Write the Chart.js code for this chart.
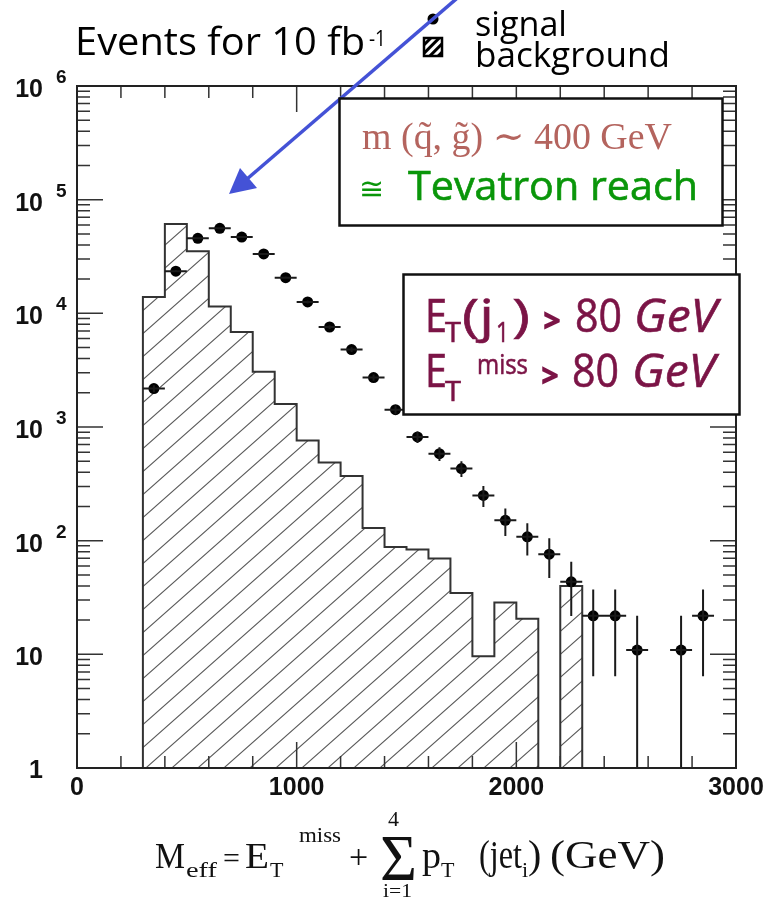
<!DOCTYPE html>
<html>
<head>
<meta charset="utf-8">
<script src="https://cdn.jsdelivr.net/npm/chart.js@4.4.1/dist/chart.umd.min.js"></script>
<style>
  html, body { margin: 0; padding: 0; background: #fff; }
  #wrap { position: relative; width: 774px; height: 899px; }
  #chart, #notes { position: absolute; left: 0; top: 0; }
  .hand { font-family: 'Open Sans', 'DejaVu Sans', sans-serif; }
  .serif { font-family: 'Liberation Serif', 'DejaVu Serif', serif; }
  .tick { font-family: 'Liberation Sans', Arial, sans-serif; fill: #111; font-weight: bold; }
</style>
</head>
<body>
<div id="wrap">
  <canvas id="chart" width="774" height="899"></canvas>
  <svg id="notes" width="774" height="899" xmlns="http://www.w3.org/2000/svg">
    <defs>
      <pattern id="legHatch" width="6" height="6" patternUnits="userSpaceOnUse" patternTransform="rotate(45)">
        <rect width="3" height="6" fill="#000"></rect>
      </pattern>
    </defs>

    <!-- title + legend -->
    <text class="hand" x="75" y="55" font-size="38" textLength="290" lengthAdjust="spacingAndGlyphs">Events for 10 fb</text>
    <text class="hand" x="369" y="46" font-size="22" textLength="17" lengthAdjust="spacingAndGlyphs">-1</text>
    <circle cx="433" cy="19" r="5.5" fill="#000"></circle>
    <rect x="424" y="38" width="18" height="18" fill="url(#legHatch)" stroke="#000" stroke-width="2.5"></rect>
    <text class="hand" x="475" y="36" font-size="34" textLength="92" lengthAdjust="spacingAndGlyphs">signal</text>
    <text class="hand" x="475" y="67" font-size="34" textLength="195" lengthAdjust="spacingAndGlyphs">background</text>

    <!-- blue arrow -->
    <line x1="462" y1="-6" x2="247" y2="179" stroke="#4452d6" stroke-width="3.5"></line>
    <polygon points="229,194 240,168 257,188" fill="#4452d6"></polygon>

    <!-- mass box -->
    <rect x="339.5" y="98.5" width="383" height="127" fill="#fff" stroke="#111" stroke-width="2.5"></rect>
    <text class="serif" x="362" y="149" font-size="38" fill="#b4645e" textLength="310" lengthAdjust="spacingAndGlyphs">m (q&#771;, g&#771;) &#8764; 400 GeV</text>
    <text class="hand" x="359" y="199" font-size="30" fill="#0a960a">&#8773;</text>
    <text class="hand" x="408" y="200" font-size="41" fill="#0a960a" stroke="#0a960a" stroke-width="0.6" textLength="290" lengthAdjust="spacingAndGlyphs">Tevatron reach</text>

    <!-- cuts box -->
    <rect x="403.5" y="274.5" width="336" height="140" fill="#fff" stroke="#111" stroke-width="2.5"></rect>
    <g class="hand" fill="#7b1446" stroke="#7b1446" stroke-width="0.6">
      <text x="425" y="332" font-size="45" textLength="22" lengthAdjust="spacingAndGlyphs">E</text>
      <text x="445" y="342" font-size="27" textLength="16" lengthAdjust="spacingAndGlyphs">T</text>
      <text x="462" y="332" font-size="45" textLength="32" lengthAdjust="spacingAndGlyphs">(j</text>
      <text x="496" y="342" font-size="27" textLength="13" lengthAdjust="spacingAndGlyphs">1</text>
      <text x="512" y="332" font-size="45" textLength="18" lengthAdjust="spacingAndGlyphs">)</text>
      <text x="544" y="331" font-size="30" stroke-width="2.5" textLength="16" lengthAdjust="spacingAndGlyphs">&gt;</text>
      <text x="575" y="332" font-size="45" textLength="47" lengthAdjust="spacingAndGlyphs">80</text>
      <text x="634" y="332" font-size="45" font-style="italic" textLength="83" lengthAdjust="spacingAndGlyphs">GeV</text>

      <text x="425" y="387" font-size="45" textLength="22" lengthAdjust="spacingAndGlyphs">E</text>
      <text x="445" y="401" font-size="27" textLength="16" lengthAdjust="spacingAndGlyphs">T</text>
      <text x="477" y="374" font-size="28" textLength="51" lengthAdjust="spacingAndGlyphs">miss</text>
      <text x="542" y="386" font-size="30" stroke-width="2.5" textLength="16" lengthAdjust="spacingAndGlyphs">&gt;</text>
      <text x="572" y="387" font-size="45" textLength="47" lengthAdjust="spacingAndGlyphs">80</text>
      <text x="632" y="387" font-size="45" font-style="italic" textLength="83" lengthAdjust="spacingAndGlyphs">GeV</text>
    </g>

    <!-- x axis title -->
    <g class="serif" fill="#111">
      <text x="155" y="868" font-size="36" textLength="30" lengthAdjust="spacingAndGlyphs">M</text>
      <text x="186" y="877" font-size="22" textLength="31" lengthAdjust="spacingAndGlyphs">eff</text>
      <text x="223" y="868" font-size="30">=</text>
      <text x="245" y="868" font-size="36" textLength="24" lengthAdjust="spacingAndGlyphs">E</text>
      <text x="270" y="877" font-size="22">T</text>
      <text x="299" y="842" font-size="22" textLength="42" lengthAdjust="spacingAndGlyphs">miss</text>
      <text x="349" y="868" font-size="34">+</text>
      <text x="380" y="880" font-size="66" textLength="37" lengthAdjust="spacingAndGlyphs">&#931;</text>
      <text x="388" y="826" font-size="22">4</text>
      <text x="383" y="897" font-size="19" textLength="29" lengthAdjust="spacingAndGlyphs">i=1</text>
      <text x="422" y="868" font-size="38">p</text>
      <text x="441" y="877" font-size="22">T</text>
      <text x="479" y="868" font-size="40" textLength="43" lengthAdjust="spacingAndGlyphs">(jet</text>
      <text x="522" y="877" font-size="22">i</text>
      <text x="528" y="868" font-size="40">)</text>
      <text x="550" y="868" font-size="40" textLength="115" lengthAdjust="spacingAndGlyphs">(GeV)</text>
    </g>
  </svg>
</div>
<script>
(function() {
  'use strict';

  // background histogram: lower edge of each 100 GeV bin and its content
  var bgBinLow = [300, 400, 500, 600, 700, 800, 900, 1000, 1100, 1200,
                  1300, 1400, 1500, 1600, 1700, 1800, 1900, 2000, 2100, 2200];
  var bgCounts = [13900, 61000, 35100, 11500, 6850, 3070, 1590, 760, 486, 371,
                  129, 88, 83.5, 69.6, 34.7, 9.6, 28.6, 20.6, 0, 40];
  var binWidth = 100;

  // signal points (bin centres), values and error bars
  var sigCenters = [350, 450, 550, 650, 750, 850, 950, 1050, 1150, 1250,
                    1350, 1450, 1550, 1650, 1750, 1850, 1950, 2050, 2150, 2250,
                    2350, 2450, 2550, 2750, 2850];
  var sigValues = [2180, 23500, 45700, 56000, 46900, 33300, 20600, 12600, 7580, 4800,
                   2720, 1420, 817, 583, 431, 250, 151, 108, 76, 43.4,
                   21.8, 21.8, 10.9, 10.9, 21.8];
  var sigErrors = [154, 500, 700, 780, 715, 600, 470, 370, 290, 230,
                   172, 124, 94, 80, 68, 52, 41, 34, 29, 21.7,
                   15.4, 15.4, 10.9, 10.9, 15.4];

  var xTicks = [0, 1000, 2000, 3000];
  var yDecades = [0, 1, 2, 3, 4, 5, 6];

  var yMin = 1;

  // step outline of the background, closed down to the axis
  var bgPoints = [{x: bgBinLow[0], y: yMin}];
  bgBinLow.forEach(function(lo, i) {
    bgPoints.push({x: lo, y: bgCounts[i] > 0 ? bgCounts[i] : yMin});
  });
  var lastEdge = bgBinLow[bgBinLow.length - 1] + binWidth;
  bgPoints.push({x: lastEdge, y: bgCounts[bgCounts.length - 1]});
  bgPoints.push({x: lastEdge, y: yMin});

  var sigPoints = sigCenters.map(function(x, i) {
    return {x: x, y: sigValues[i]};
  });

  // hatch pattern for the background fill
  function makeHatch() {
    var w = 26, h = 23;
    var tile = document.createElement('canvas');
    tile.width = w; tile.height = h;
    var t = tile.getContext('2d');
    t.strokeStyle = '#5a5a5a';
    t.lineWidth = 1.1;
    t.beginPath();
    [-1, 0, 1].forEach(function(k) {
      t.moveTo(-w + k * w, 2 * h);
      t.lineTo(2 * w + k * w, -h);
    });
    t.stroke();
    return t.createPattern(tile, 'repeat');
  }

  var errorBars = {
    id: 'errorBars',
    afterDatasetsDraw: function(chart) {
      var xs = chart.scales.x, ys = chart.scales.y, c = chart.ctx, a = chart.chartArea;
      c.save();
      c.beginPath();
      c.rect(a.left, a.top, a.right - a.left, a.bottom - a.top);
      c.clip();
      c.strokeStyle = '#1a1a1a';
      c.lineWidth = 2;
      c.beginPath();
      sigCenters.forEach(function(xc, i) {
        var v = sigValues[i], e = sigErrors[i];
        var px = xs.getPixelForValue(xc);
        var py = ys.getPixelForValue(v);
        c.moveTo(px, ys.getPixelForValue(v + e));
        c.lineTo(px, ys.getPixelForValue(Math.max(v - e, ys.min)));
        c.moveTo(xs.getPixelForValue(xc - binWidth / 2), py);
        c.lineTo(xs.getPixelForValue(xc + binWidth / 2), py);
      });
      c.stroke();
      c.restore();
    }
  };

  // frame with inward ticks on all four sides
  var frame = {
    id: 'frame',
    afterDraw: function(chart) {
      var xs = chart.scales.x, ys = chart.scales.y, c = chart.ctx, a = chart.chartArea;
      var v, px, py, len, k, m;
      c.save();
      c.strokeStyle = '#333';
      c.lineWidth = 1.5;
      c.beginPath();
      for (v = 0; v <= 3000; v += 200) {
        px = xs.getPixelForValue(v);
        len = v % 1000 === 0 ? 26 : 12;
        c.moveTo(px, a.bottom); c.lineTo(px, a.bottom - len);
        c.moveTo(px, a.top); c.lineTo(px, a.top + len);
      }
      for (k = 0; k <= 6; k++) {
        for (m = 1; m < 10; m++) {
          if (k === 6 && m > 1) break;
          py = ys.getPixelForValue(m * Math.pow(10, k));
          len = m === 1 ? 26 : 13;
          c.moveTo(a.left, py); c.lineTo(a.left + len, py);
          c.moveTo(a.right, py); c.lineTo(a.right - len, py);
        }
      }
      c.stroke();
      c.strokeStyle = '#222';
      c.lineWidth = 2;
      c.strokeRect(a.left, a.top, a.right - a.left, a.bottom - a.top);
      c.restore();
    }
  };

  var ctx = document.getElementById('chart').getContext('2d');
  var chart = new Chart(ctx, {
    type: 'line',
    data: {
      datasets: [{
        data: bgPoints,
        stepped: 'before',
        borderColor: '#333',
        borderWidth: 2,
        backgroundColor: makeHatch(),
        fill: 'start',
        pointRadius: 0,
        order: 2
      }, {
        data: sigPoints,
        showLine: false,
        pointRadius: 5.5,
        pointBackgroundColor: '#000',
        pointBorderWidth: 0,
        order: 1
      }]
    },
    options: {
      responsive: false,
      animation: false,
      events: [],
      layout: { padding: { left: 77, right: 38, top: 86, bottom: 131 } },
      scales: {
        x: { type: 'linear', min: 0, max: 3000, display: false },
        y: { type: 'logarithmic', min: yMin, max: 1e6, display: false }
      },
      plugins: {
        legend: { display: false },
        tooltip: { enabled: false }
      }
    },
    plugins: [errorBars, frame]
  });

  // tick labels placed from the chart's scales
  var svg = document.getElementById('notes');
  var NS = 'http://www.w3.org/2000/svg';
  function addText(x, y, str, size, anchor) {
    var t = document.createElementNS(NS, 'text');
    t.setAttribute('x', x);
    t.setAttribute('y', y);
    t.setAttribute('font-size', size);
    t.setAttribute('class', 'tick');
    if (anchor) t.setAttribute('text-anchor', anchor);
    t.textContent = str;
    svg.appendChild(t);
  }

  xTicks.forEach(function(v) {
    addText(chart.scales.x.getPixelForValue(v), 795, String(v), 25, 'middle');
  });

  yDecades.forEach(function(k) {
    var py = chart.scales.y.getPixelForValue(Math.pow(10, k));
    if (k === 0) {
      addText(43, py + 10, '1', 25, 'end');
    } else {
      addText(43, py + 11, '10', 25, 'end');
      if (k > 1) addText(56, py - 3, String(k), 19, 'start');
    }
  });
})();
</script>
</body>
</html>
